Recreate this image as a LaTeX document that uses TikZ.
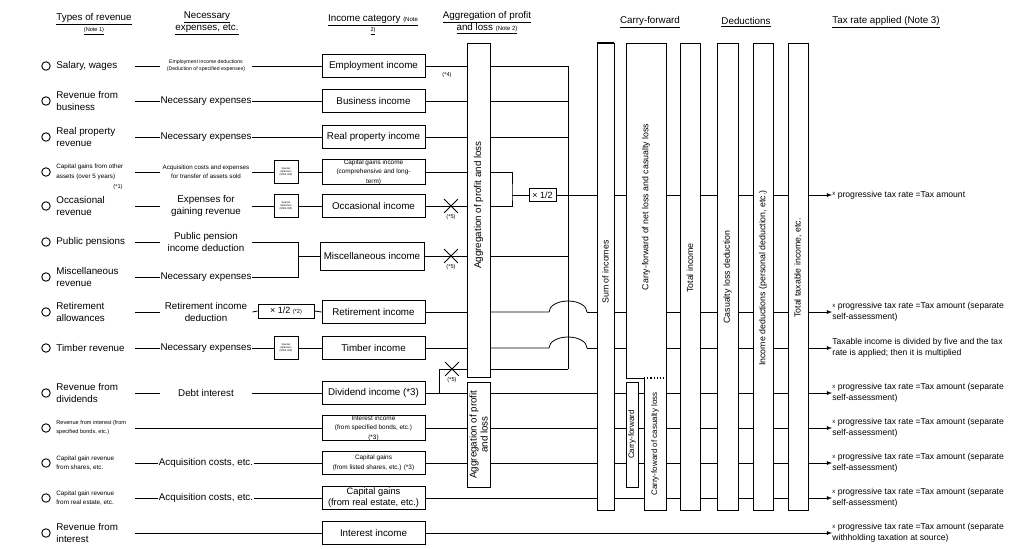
\documentclass[tikz,border=0pt]{standalone}
\usepackage{fontspec}
\setmainfont{Liberation Sans}
\usetikzlibrary{shapes.misc}

\newcommand{\fsz}[2]{\fontsize{#1}{#2}\selectfont}
\newcommand{\timesx}{\raisebox{1.6pt}{\fsz{6}{7}x}}

\begin{document}
\begin{tikzpicture}[x=1pt, y=-1pt, >=latex, line width=0.8pt,
    every node/.style={font=\fsz{9.8}{12}},
    head/.style={align=center, inner sep=0pt},
    rev/.style={anchor=west, align=left, inner sep=0pt},
    revs/.style={rev, font=\fsz{6.3}{9.5}},
    dot/.style={draw, circle, minimum size=8.5pt, inner sep=0pt, line width=0.9pt},
    cost/.style={align=center, minimum width=92pt, inner sep=0pt},
    costs/.style={cost, font=\fsz{6.2}{8.5}},
    spd/.style={draw, fill=white, minimum width=24pt, minimum height=23pt, inner sep=0pt, align=center, font=\fsz{2.6}{3.2}},
    smallbox/.style={draw, fill=white, inner sep=0pt, align=center},
    inc/.style={draw, fill=white, minimum width=103pt, minimum height=23pt, inner sep=0pt, align=center},
    incs/.style={inc, font=\fsz{6.4}{9.5}},
    bar/.style={draw, fill=white, inner sep=0pt, minimum height=467pt},
    vtext/.style={rotate=90, align=center, inner sep=0pt, font=\fsz{8.8}{11}},
    note/.style={font=\fsz{5.6}{7}, inner sep=1pt},
    cut/.style={cross out, draw, minimum size=13pt, inner sep=0pt, label={[note]below:(*5)}},
    rate/.style={anchor=west, align=left, inner sep=0pt, font=\fsz{8.6}{11}}]
  \useasboundingbox (0,0) rectangle (1029,549);

  % headings
  \node[head] (h1) at (94,19) {\underline{Types of revenue}};
  \node[note] (h1n) at (94,31) {\underline{(Note 1)}};
  \node[head] (h2) at (207,23) {\underline{Necessary}\\\underline{expenses, etc.}};
  \node[head] (h3) at (373,20) {\underline{Income category {\fsz{6}{7}(Note}}};
  \node[note] (h3n) at (373,31) {\underline{2)}};
  \node[head] (h4) at (487,17) {\underline{Aggregation of profit}};
  \node[head] (h4b) at (487,29) {\underline{and loss {\fsz{6}{7}(Note 2)}}};
  \node[head] (h5) at (650,22) {\underline{Carry-forward}};
  \node[head] (h6) at (746,22) {\underline{Deductions}};
  \node[head, anchor=west] (h7) at (832,22) {\underline{Tax rate applied (Note 3)}};

  % types of revenue
  \foreach \i/\y in {1/66, 2/101, 3/137, 4/172, 5/206, 6/242, 7/277, 8/312, 9/348, 10/393, 11/428, 12/463, 13/498, 14/533} {
      \node[dot] (o\i) at (46,\y) {};
      \coordinate (s\i) at (135,\y);
    }
  \node[rev] (v1) at (56,66) {Salary, wages};
  \node[rev] (v2) at (56,101) {Revenue from\\business};
  \node[rev] (v3) at (56,137) {Real property\\revenue};
  \node[revs] (v4) at (56,172) {Capital gains from other\\assets (over 5 years)};
  \node[note] (n1) at (118,187) {(*1)};
  \node[rev] (v5) at (56,206) {Occasional\\revenue};
  \node[rev] (v6) at (56,242) {Public pensions};
  \node[rev] (v7) at (56,277) {Miscellaneous\\revenue};
  \node[rev] (v8) at (56,312) {Retirement\\allowances};
  \node[rev] (v9) at (56,348) {Timber revenue};
  \node[rev] (v10) at (56,393) {Revenue from\\dividends};
  \node[revs, font=\fsz{5.6}{9}] (v11) at (56,428) {Revenue from interest (from\\specified bonds, etc.)};
  \node[revs] (v12) at (56,463) {Capital gain revenue\\from shares, etc.};
  \node[revs] (v13) at (56,498) {Capital gain revenue\\from real estate, etc.};
  \node[rev] (v14) at (56,533) {Revenue from\\interest};

  % necessary expenses
  \node[costs, font=\fsz{5.2}{7}] (c1) at (206,66) {Employment income deductions\\(Deduction of specified expenses)};
  \node[cost] (c2) at (206,101) {Necessary expenses};
  \node[cost] (c3) at (206,137) {Necessary expenses};
  \node[costs] (c4) at (206,172) {Acquisition costs and expenses\\for transfer of assets sold};
  \node[cost] (c5) at (206,206) {Expenses for\\gaining revenue};
  \node[cost] (c6) at (206,242) {Public pension\\income deduction};
  \node[cost] (c7) at (206,277) {Necessary expenses};
  \node[cost] (c8) at (206,312) {Retirement income\\deduction};
  \node[cost] (c9) at (206,348) {Necessary expenses};
  \node[cost] (c10) at (206,393) {Debt interest};
  \node[cost] (c12) at (206,463) {Acquisition costs, etc.};
  \node[cost] (c13) at (206,498) {Acquisition costs, etc.};

  \node[spd] (sd4) at (286,172) {Special\\deduction\\(¥500,000)};
  \node[spd] (sd5) at (286,206) {Special\\deduction\\(¥500,000)};
  \node[spd] (sd9) at (286,348) {Special\\deduction\\(¥500,000)};
  \node[smallbox, minimum width=56pt, minimum height=14pt, font=\fsz{9}{11}] (hb) at (286,311) {× 1/2 {\fsz{5.6}{7}(*2)}};

  % income categories
  \node[inc] (i1) at (373.5,66) {Employment income};
  \node[inc] (i2) at (373.5,101) {Business income};
  \node[inc] (i3) at (373.5,137) {Real property income};
  \node[incs] (i4) at (373.5,172) {Capital gains income\\(comprehensive and long-\\term)};
  \node[inc] (i5) at (373.5,206) {Occasional income};
  \node[inc, minimum width=104pt, minimum height=28pt] (i6) at (372,256) {Miscellaneous income};
  \node[inc] (i7) at (373.5,312) {Retirement income};
  \node[inc] (i8) at (373.5,348) {Timber income};
  \node[inc] (i9) at (373.5,393) {Dividend income (*3)};
  \node[incs] (i10) at (373.5,428) {Interest income\\(from specified bonds, etc.)\\(*3)};
  \node[incs] (i11) at (373.5,463) {Capital gains\\(from listed shares, etc.) (*3)};
  \node[inc, font=\fsz{9.3}{11}] (i12) at (373.5,498) {Capital gains\\(from real estate, etc.)};
  \node[inc] (i13) at (373.5,533) {Interest income};

  \foreach \i in {1,2,3,5,6,7,8,9,10,12,13} \draw (s\i) -- (c\i.west);
  \foreach \c/\n in {c1/i1, c2/i2, c3/i3, c10/i9, c12/i11, c13/i12} \draw (\c.east) -- (\n.west);
  \foreach \c/\d/\n in {c4/sd4/i4, c5/sd5/i5, c9/sd9/i8, c8/hb/i7} {
      \draw (\c.east) -- (\d.west);
      \draw (\d.east) -- (\n.west);
    }
  \draw (s4) -- (c4.west);
  \draw (s11) -- (i10.west);
  \draw (s14) -- (i13.west);
  \coordinate (b6) at (298,242);
  \coordinate (b7) at (298,277);
  \draw (c6.east) -- (b6) -- (b7) -- (c7.east);
  \draw (b6 |- i6.west) -- (i6.west);

  % aggregation of profit and loss
  \node[bar, minimum width=23pt, minimum height=334pt] (agg) at (478.5,210) {};
  \node[vtext, font=\fsz{9.8}{12}] (aggt) at (478.5,205) {Aggregation of profit and loss};
  \node[bar, minimum width=23pt, minimum height=105pt] (agg2) at (478.5,434.5) {};
  \node[vtext, font=\fsz{9.8}{11}] (agg2t) at (478.5,434.5) {Aggregation of profit\\and loss};

  \foreach \n in {i1,i2,i3,i4,i5,i6,i7,i8} \draw (\n.east) -- (\n.east -| agg.west);
  \node[note] (n4) at (447,75) {(*4)};
  \node[cut] (x1) at (451,206) {};
  \node[cut] (x2) at (451,256) {};
  \coordinate (dv) at (439,369);
  \draw (i9.east) -- (i9.east -| agg2.west);
  \draw (i9.east -| dv) -- (dv) -- (dv -| agg.west);
  \node[cut] (x3) at (452,369) {};
  \draw (i10.east) -- (i10.east -| agg2.west);
  \draw (i11.east) -- (i11.east -| agg2.west);

  % right of the aggregation
  \coordinate (bus) at (568,66);
  \foreach \n in {i1,i2,i3,i6} \draw (agg.east |- \n.east) -- (bus |- \n.east);
  \draw (agg.east |- dv) -- (bus |- dv);
  \draw (bus) -- (bus |- dv);
  \node[smallbox, minimum width=27pt, minimum height=13pt, font=\fsz{9}{11}] (half) at (542.5,195) {× 1/2};
  \coordinate (bk) at (512,195);
  \draw (agg.east |- i4.east) -| (bk) |- (agg.east |- i5.east);
  \draw (bk) -- (half.west);

  % tax rate applied
  \node[rate] (t1) at (832,195) {\timesx{} progressive tax rate =Tax amount};
  \node[rate] (t2) at (832,312) {\timesx{} progressive tax rate =Tax amount (separate\\self-assessment)};
  \node[rate] (t3) at (832,348) {Taxable income is divided by five and the tax\\rate is applied; then it is multiplied};
  \foreach \i/\y in {4/393, 5/428, 6/463, 7/498}
    \node[rate] (t\i) at (832,\y) {\timesx{} progressive tax rate =Tax amount (separate\\self-assessment)};
  \node[rate] (t8) at (832,533) {\timesx{} progressive tax rate =Tax amount (separate\\withholding taxation at source)};

  \draw[->] (half.east) -- (t1.west);
  \foreach \n/\t in {i7/t2, i8/t3} {
      \draw (agg.east |- \n.east) -- ([xshift=-19pt]bus |- \n.east)
      arc[start angle=180, end angle=0, x radius=19pt, y radius=11pt];
      \draw[->] ([xshift=19pt]bus |- \n.east) -- (\t.west);
    }
  \foreach \n/\t in {i9/t4, i10/t5, i11/t6} \draw[->] (agg2.east |- \n.east) -- (\t.west);
  \draw[->] (i12.east) -- (t7.west);
  \draw[->] (i13.east) -- (t8.west);

  % carry-forward and deductions
  \node[bar, minimum width=17pt] (sum) at (605.5,276.5) {};
  \draw[line width=1.8pt] (sum.north west) -- (sum.north east);
  \draw[line width=1.8pt] (sum.south west) -- (sum.south east);
  \node[vtext] (sumt) at (605.5,272) {Sum of incomes};
  \draw[fill=white] (626,43) -- (666,43) -- (666,510) -- (644,510) -- (644,378) -- (626,378) -- cycle;
  \draw[dotted, line width=1.2pt] (644,378) -- (666,378);
  \node[vtext] (cft) at (646,207) {Carry-forward of net loss and casualty loss};
  \node[bar, minimum width=12pt, minimum height=105pt] (cfs) at (632,434.5) {};
  \node[vtext, font=\fsz{8}{10}] (cfst) at (632,434.5) {Carry-forward};
  \node[vtext, font=\fsz{8}{10}] (cflt) at (655,444) {Carry-foward of casualty loss};
  \node[bar, minimum width=20pt] (ti) at (690,276.5) {};
  \node[vtext] (tit) at (690,268) {Total income};
  \node[bar, minimum width=21pt] (cl) at (727.5,276.5) {};
  \node[vtext] (clt) at (727.5,277) {Casualty loss deduction};
  \node[bar, minimum width=20pt] (id) at (763,276.5) {};
  \node[vtext] (idt) at (763,278) {Income deductions (personal deduction, etc.)};
  \node[bar, minimum width=20pt] (tt) at (798,276.5) {};
  \node[vtext] (ttt) at (798,268) {Total taxable income, etc.};
\end{tikzpicture}
\end{document}
